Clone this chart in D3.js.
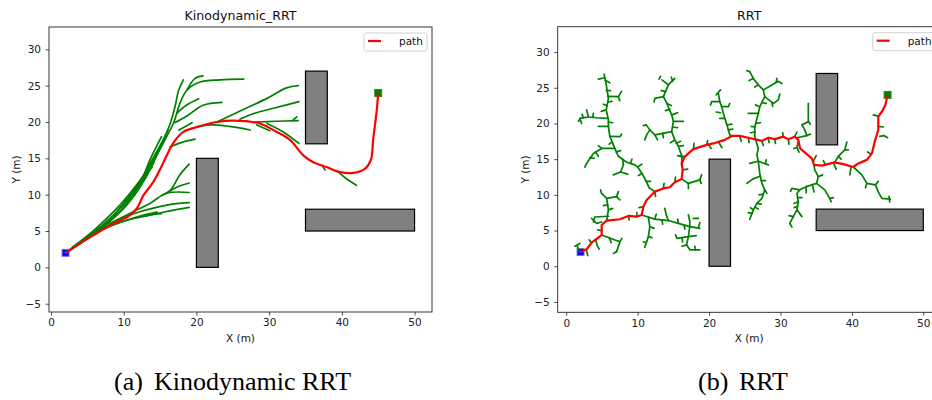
<!DOCTYPE html>
<html>
<head>
<meta charset="utf-8">
<script src="https://cdn.jsdelivr.net/npm/d3@7"></script>
<style>
  body { margin: 0; background: #fff; }
  svg { display: block; font-family: "DejaVu Sans", sans-serif; }
</style>
</head>
<body>
<div id="chart"></div>
<script>
// Axis ticks
const xTicks = [0, 10, 20, 30, 40, 50];
const yTicks = [-5, 0, 5, 10, 15, 20, 25, 30];

// Obstacles: [x, y, w, h] in metres
const obstacles = [
  [20, 0, 3, 15],
  [35, 17, 3, 10],
  [35, 5, 15, 3],
];
const startPoint = [2, 2];
const goalPoint = [45, 24];

// Kinodynamic RRT: final path and tree branches
const kdPath = [
  [2, 2], [4, 3.3], [5.8, 4.4], [8.6, 6.05], [10.6, 7.0], [11.8, 8.1], [12.7, 9.9],
  [14.1, 11.8], [15.4, 14.3], [16.8, 17.1], [18.2, 18.65], [20, 19.3], [22.8, 20.0],
  [25.1, 20.2], [28.7, 19.8], [31.0, 18.65], [32.9, 17.5], [34.7, 15.4], [36.0, 14.5],
  [37.9, 13.8], [39.8, 13.1], [41.6, 13.0], [43.2, 13.6], [44.0, 14.8], [44.3, 17.5],
  [44.8, 21.6], [45, 24],
];
const kdTree = [
  [[2, 2], [5, 4], [8, 6.4], [10.4, 9.3], [12.4, 11.9], [13.6, 14.8], [15.2, 18.0]],
  [[2, 2], [5.5, 4.5], [9, 7.6], [11.8, 11.1], [13.6, 14.3], [15.4, 17.5], [16.4, 19.8], [17.1, 22.3], [17.5, 24.2], [18.2, 25.8]],
  [[3, 2.8], [6, 5.2], [9.5, 8.6], [12.2, 11.9], [14.3, 15.0], [15.8, 17.8], [16.9, 20.0], [17.7, 22.5], [18.7, 24.4], [20.5, 25.5], [23.2, 25.8], [26.5, 25.9]],
  [[4, 3.3], [7, 5.6], [10, 8.7], [12.6, 12.3], [14.6, 15.8], [16.1, 18.9]],
  [[2, 2], [4.5, 3.6], [7.5, 5.8], [10.6, 8.8], [13, 12.3], [14.9, 16.2]],
  [[6, 5], [9, 7.2], [11.2, 9.9], [13.3, 13.0], [14.2, 14.6]],
  [[11.5, 10], [12.3, 11.9], [13.9, 13.8]],
  [[18.7, 24.4], [19.8, 26.0], [20.9, 26.35]],
  [[17.3, 21.2], [18.6, 22.3], [20.3, 23.2]],
  [[17.0, 19.9], [18.8, 20.9], [20.9, 22.3], [23.5, 22.7]],
  [[17.6, 18.9], [19.4, 19.9]],
  [[16.4, 16.6], [18, 17.2], [19.8, 17.65]],
  [[20, 19.3], [21.9, 19.6], [24.5, 19.4], [27.4, 18.9]],
  [[22.8, 20.0], [26, 21.5], [29.7, 23.25], [32.4, 24.7], [34.0, 25.0]],
  [[26, 20.4], [28, 21.2], [31, 22], [34.1, 22.8]],
  [[28, 20], [31, 20.1], [34, 20.2]],
  [[33.2, 20.2], [33.8, 20.7]],
  [[29.7, 19.8], [32, 18.6], [34.1, 17.05]],
  [[28.3, 19.6], [30.1, 18.8]],
  [[37.3, 14.0], [37.7, 13.4]],
  [[39.3, 13.3], [40.5, 12.3], [42.0, 11.3]],
  [[2, 2], [5, 4.1], [9, 6.05], [13.6, 7.2], [16, 7.7], [19, 8.25]],
  [[2, 2], [5.5, 4.4], [9.5, 6.7], [12.2, 7.65], [15.9, 8.57], [19, 8.9]],
  [[5, 4.2], [8.5, 5.8], [12, 7.0], [14.6, 7.6]],
  [[8, 6], [11.3, 7.65], [13.6, 8.8], [15.9, 10.2], [19, 10.3]],
  [[15.9, 10.2], [17, 10.9], [19, 11.6]],
  [[15.2, 9.9], [16.4, 10.6], [17.7, 12.7], [19, 14.2]],
  [[12.6, 7.0], [14.2, 7.3], [15.2, 7.4]],
];

// RRT: final path and tree edges
const rrtPath = [
  [2, 2], [2.86, 2.38], [3.55, 3.3], [4.5, 4.0], [4.96, 4.38], [4.96, 5.78], [5.66, 6.39],
  [7.52, 6.58], [8.7, 7.05], [9.86, 6.95], [10.56, 7.18], [10.8, 8.35], [11.26, 9.29],
  [12.42, 10.45], [13.6, 10.9], [14.5, 11.06], [15.2, 11.76], [16.16, 12.22], [16.3, 13.49],
  [16.16, 14.4], [16.6, 15.35], [17.1, 15.8], [17.8, 16.4], [19.66, 17.0], [20.6, 17.2],
  [22.2, 17.7], [23.2, 18.25], [24.3, 18.25], [25.5, 18.0], [27.4, 17.55], [28.3, 18.0],
  [29.2, 17.8], [30.4, 18.15], [31.1, 17.8], [32.0, 18.15], [32.5, 17.7], [32.75, 16.5],
  [33.4, 15.96], [34.4, 15.1], [34.7, 14.2], [35.8, 14.1], [37.6, 14.55], [38.8, 14.3],
  [40.2, 13.9], [40.9, 14.4], [42.1, 14.9], [42.8, 15.8], [43.2, 17.45], [43.7, 19.1],
  [43.7, 20.95], [44.2, 21.65], [44.7, 22.6], [45, 24],
];
const rrtTree = [
  // left trunk
  [[4.5, 26.2], [5.4, 26.4], [5.6, 25.4], [5.9, 23.5], [5.6, 21.9], [5.9, 20.5], [5.9, 19.6], [6.1, 18.2], [6.8, 16.5], [7.3, 15.4], [8.4, 14.6], [9.6, 14.2], [10.0, 13.9], [10.6, 13.0], [11.2, 11.9], [11.6, 11.0], [12.4, 10.45]],
  [[5.4, 26.4], [5.3, 26.9]], [[5.5, 26.0], [6.1, 25.7]],
  [[5.8, 23.8], [7.3, 23.75], [7.75, 24.5]], [[7.3, 23.75], [7.5, 23.2]],
  [[5.6, 21.9], [4.9, 21.7]],
  [[5.8, 20.7], [4.25, 20.8], [3.1, 20.9], [2.85, 21.9]],
  [[3.1, 20.9], [1.9, 20.7], [2.15, 20.0]], [[3.7, 20.85], [3.8, 21.4]], [[2.4, 20.8], [2.2, 21.3]],
  [[4.5, 19.6], [5.9, 19.6]],
  [[6.1, 18.2], [7.5, 18.15], [7.75, 18.5]],
  [[6.8, 16.5], [4.95, 16.5], [4.5, 16.9]],
  [[4.95, 16.5], [3.8, 15.8], [2.85, 14.4], [2.6, 13.9]],
  [[4.1, 16.0], [4.5, 15.4]], [[3.3, 15.2], [3.9, 15.1]],
  [[7.9, 15.0], [8.0, 14.2], [7.6, 13.2], [6.6, 12.8]], [[7.6, 13.2], [8.6, 12.9]],
  [[9.0, 14.4], [9.2, 15.0]], [[10.0, 13.9], [10.6, 14.3]], [[10.6, 13.0], [10.1, 12.7]],
  [[11.2, 11.9], [11.8, 11.9]],
  [[5.9, 23.0], [6.4, 23.1]], [[5.7, 22.5], [5.2, 22.7]], [[5.9, 20.2], [6.5, 20.1]],
  [[6.4, 17.4], [6.0, 17.1]], [[7.0, 16.0], [7.6, 16.2]], [[5.6, 24.6], [6.2, 24.6]], [[2.0, 20.7], [1.7, 20.3]],
  // second trunk
  [[13.4, 26.1], [14.3, 25.4], [13.6, 23.75], [14.1, 22.8], [14.76, 21.2], [15.0, 20.3], [14.76, 18.85], [15.2, 17.7], [15.7, 16.8], [16.2, 15.4], [16.16, 14.4]],
  [[14.3, 25.4], [15.2, 26.3]], [[14.9, 25.9], [14.7, 26.5]], [[13.0, 26.2], [13.2, 26.6]],
  [[13.6, 23.75], [12.4, 23.5], [12.3, 23.0]],
  [[15.0, 20.3], [16.4, 20.3]], [[14.8, 21.2], [15.6, 21.5]], [[14.1, 22.8], [14.7, 22.5]],
  [[14.76, 18.85], [12.4, 18.4], [11.7, 19.1], [11.2, 19.8]],
  [[11.7, 19.1], [11.26, 18.4], [11.0, 17.7]], [[12.4, 18.4], [12.8, 17.7]], [[11.2, 19.8], [10.8, 19.7]],
  [[15.7, 16.8], [16.4, 16.9]], [[15.2, 17.7], [14.6, 17.3]], [[16.2, 15.4], [15.6, 15.5]],
  [[13.9, 24.5], [13.3, 24.6]], [[14.5, 22.0], [13.9, 21.8]], [[14.9, 19.5], [15.6, 19.4]],
  [[15.4, 17.2], [16.0, 17.5]], [[13.5, 18.6], [13.6, 18.0]],
  // third cluster
  [[21.3, 24.2], [21.5, 23.05], [21.76, 22.35], [22.2, 20.7], [22.5, 19.8], [22.9, 18.4], [23.2, 18.25]],
  [[21.5, 23.05], [20.35, 23.05], [20.2, 22.6]], [[21.76, 22.35], [22.7, 22.35], [22.9, 22.8]],
  [[22.2, 20.7], [21.5, 20.7]], [[22.5, 19.8], [23.2, 19.9]], [[21.0, 24.0], [21.6, 24.7]],
  [[19.9, 17.1], [20.3, 16.5]], [[21.3, 17.45], [21.8, 16.6]],
  [[21.6, 21.5], [21.0, 21.6]], [[22.7, 19.1], [23.3, 19.2]],
  // upper middle
  [[25.7, 27.25], [26.2, 26.3], [26.9, 25.4], [27.6, 24.7], [27.8, 23.75], [27.1, 22.35], [26.9, 21.4], [26.7, 20.7], [26.4, 19.5], [26.4, 18.15], [26.5, 17.8]],
  [[27.6, 24.7], [28.8, 25.4], [29.7, 25.9], [30.2, 25.6]], [[29.4, 25.8], [29.5, 26.3]],
  [[27.8, 23.75], [29.0, 22.8], [29.7, 23.3], [29.9, 24.1]], [[28.8, 22.9], [28.9, 22.4]],
  [[25.5, 21.4], [26.9, 21.4]], [[26.4, 19.5], [25.9, 19.6]], [[25.7, 27.25], [25.3, 27.4]],
  [[26.2, 26.3], [25.6, 26.0]], [[27.1, 22.35], [26.5, 22.6]], [[26.9, 25.4], [26.4, 25.1]],
  [[26.6, 20.0], [27.2, 20.1]], [[26.4, 18.8], [25.8, 18.7]], [[27.5, 22.9], [28.0, 22.8]],
  // near upper obstacle and goal
  [[33.9, 22.8], [33.9, 20.25], [33.0, 19.8], [33.4, 19.1], [33.7, 18.3], [32.3, 18.0]],
  [[33.9, 20.25], [34.2, 19.9]], [[33.7, 18.3], [34.2, 18.5]],
  [[32.5, 17.5], [32.3, 16.6], [32.6, 16.0]], [[32.3, 16.6], [31.9, 16.5]],
  [[34.6, 14.7], [35.0, 15.5]],
  [[39.3, 17.4], [39.0, 16.3], [38.1, 15.4], [37.6, 14.55]], [[39.0, 16.3], [39.5, 16.3]], [[38.1, 15.4], [38.5, 15.0]],
  [[43.0, 21.2], [43.7, 21.0]], [[43.7, 19.6], [44.4, 19.5]], [[43.9, 18.2], [44.5, 18.3], [45.0, 18.0]],
  [[42.2, 16.0], [42.7, 15.7]], [[36.0, 14.8], [36.3, 14.2]],
  // lower middle trunk
  [[26.5, 17.8], [26.9, 16.5], [26.7, 15.6], [26.9, 14.7], [27.1, 13.0], [27.4, 11.6], [27.8, 10.7], [27.4, 9.5], [26.7, 8.8], [26.2, 7.9], [25.7, 6.6]],
  [[26.9, 14.7], [25.7, 14.4]], [[26.9, 14.7], [28.3, 14.2]], [[25.3, 11.6], [26.1, 12.2], [27.1, 12.6]],
  [[27.8, 10.7], [28.1, 10.2]], [[26.7, 8.8], [27.3, 8.7]], [[26.2, 7.9], [25.8, 8.2]], [[27.9, 14.4], [28.0, 14.9]],
  [[27.3, 12.0], [27.9, 12.0]], [[27.6, 10.1], [27.0, 10.0]], [[26.4, 8.3], [26.9, 8.0]], [[26.0, 7.4], [25.5, 7.5]],
  // below path, right
  [[34.7, 14.2], [34.8, 13.5], [35.3, 12.55], [35.05, 11.6], [33.6, 11.15], [32.7, 10.7], [32.3, 10.2], [32.5, 9.05], [32.3, 7.9], [31.8, 6.95], [31.3, 6.0]],
  [[32.7, 10.7], [31.6, 10.9], [31.4, 10.5]],
  [[35.05, 11.6], [36.2, 10.7], [36.9, 9.5], [37.1, 9.05]], [[36.9, 9.5], [37.4, 9.6]],
  [[33.6, 11.15], [33.6, 10.3]], [[34.5, 11.3], [34.7, 10.4]], [[32.3, 7.9], [33.0, 6.95]],
  [[31.8, 6.95], [31.2, 7.1]], [[31.3, 6.0], [31.6, 5.5]], [[32.5, 9.05], [31.9, 8.8]], [[35.3, 12.55], [35.9, 12.8]],
  [[32.4, 9.6], [33.0, 9.6]], [[32.4, 8.4], [31.9, 8.2]],
  [[40.2, 13.9], [41.4, 12.8], [42.1, 11.6], [43.3, 11.4], [43.8, 10.2], [44.2, 9.5], [45.4, 9.4]],
  [[42.1, 11.6], [41.9, 11.0]], [[43.3, 11.4], [43.7, 11.9]], [[45.2, 9.8], [45.3, 9.0]],
  [[39.9, 13.9], [39.7, 12.8]], [[37.4, 14.5], [37.8, 13.6]],
  // lower left
  [[5.66, 6.39], [5.9, 7.9], [5.65, 9.5], [4.95, 10.2]],
  [[5.65, 9.5], [7.05, 9.75], [7.3, 10.45]], [[7.05, 9.75], [7.5, 9.3]], [[4.95, 10.2], [4.8, 10.7]],
  [[5.9, 7.9], [6.5, 8.1]], [[5.8, 8.6], [5.2, 8.5]],
  [[5.9, 7.0], [4.0, 6.9], [3.8, 6.2]], [[4.95, 6.2], [4.25, 6.0], [3.55, 6.7]],
  [[4.96, 4.38], [6.82, 3.68], [7.52, 3.45], [7.05, 2.05]],
  [[6.0, 4.0], [6.3, 3.3]], [[7.52, 3.45], [7.8, 3.9]], [[7.05, 2.05], [6.6, 1.8]],
  [[1.9, 2.0], [1.5, 2.9]], [[1.2, 2.8], [1.9, 3.2]], [[4.1, 3.8], [4.3, 3.0], [4.6, 2.4]], [[2.8, 2.3], [3.0, 1.5]],
  [[4.96, 5.0], [4.4, 5.1]],
  [[10.56, 7.18], [12.4, 6.6], [14.3, 6.4], [15.7, 6.0], [17.3, 5.55], [18.7, 5.3]],
  [[12.4, 6.6], [12.6, 7.3]], [[13.8, 8.1], [14.0, 7.2], [14.3, 6.4]],
  [[17.1, 7.2], [17.3, 6.3], [17.3, 5.55]], [[17.8, 6.7], [18.5, 6.7]], [[18.5, 5.35], [18.7, 6.1]], [[15.7, 6.0], [15.6, 6.6]],
  [[13.4, 6.5], [13.5, 5.9]], [[16.5, 5.8], [16.6, 5.2]],
  [[17.3, 5.55], [17.1, 4.15], [15.5, 3.9], [15.3, 4.4]],
  [[17.1, 4.15], [16.85, 3.0], [17.3, 2.3], [18.7, 2.3]],
  [[16.85, 3.0], [16.2, 2.8]], [[18.1, 2.3], [18.0, 2.8]], [[16.2, 4.0], [16.3, 3.4]], [[17.1, 4.15], [18.2, 4.3]],
  [[11.5, 6.9], [11.7, 5.55], [11.5, 4.15], [11.0, 2.65]],
  [[11.7, 5.55], [12.3, 5.3]], [[11.5, 4.15], [12.0, 4.0]], [[11.2, 3.3], [10.8, 3.4]],
  // twigs along the path
  [[16.2, 12.2], [17.1, 11.6], [18.7, 12.1], [18.95, 12.8]], [[17.1, 11.6], [17.1, 10.9]], [[18.7, 12.1], [18.9, 11.6]],
  [[13.6, 10.9], [13.7, 11.6]], [[15.2, 11.76], [15.3, 12.5]], [[12.42, 10.45], [12.5, 9.8]],
  [[10.8, 8.35], [10.2, 8.2]], [[9.86, 6.95], [9.9, 7.5]], [[8.7, 7.05], [8.8, 6.5]],
  [[16.3, 13.49], [17.0, 13.6]], [[16.6, 15.35], [15.9, 15.4]], [[17.8, 16.4], [17.9, 17.2]],
  [[19.66, 17.0], [19.8, 17.6]], [[24.3, 18.25], [24.5, 17.5]], [[25.5, 18.0], [25.6, 17.3]],
  [[28.3, 18.0], [28.4, 17.3]], [[29.2, 17.8], [29.3, 17.2]], [[30.4, 18.15], [30.3, 18.7]],
  [[31.1, 17.8], [31.2, 17.1]], [[32.0, 18.15], [32.3, 18.8]], [[27.4, 17.55], [27.6, 16.9]],
  [[3.55, 3.3], [3.2, 3.7]],
];

const width = 932;
const height = 400;

const svg = d3
  .select("#chart")
  .append("svg")
  .attr("width", width)
  .attr("height", height);

svg.append("rect").attr("width", width).attr("height", height).attr("fill", "#fff");

const panels = [
  {
    left: 49, right: 432, top: 27, bottom: 312,
    xDomain: [-0.28, 52.4], yDomain: [-6.14, 33.07],
    title: "Kinodynamic_RRT",
    tree: kdTree, path: kdPath, curve: d3.curveCatmullRom,
    yLabelX: 19.5, tag: "(a)", tagX: 114, caption: "Kinodynamic RRT", captionX: 154,
  },
  {
    left: 557.7, right: 940.7, top: 26.7, bottom: 312.3,
    xDomain: [-1.2, 52.44], yDomain: [-6.45, 33.55],
    title: "RRT",
    tree: rrtTree, path: rrtPath, curve: d3.curveLinear,
    yLabelX: 529, tag: "(b)", tagX: 698, caption: "RRT", captionX: 739,
  },
];

panels.forEach((p) => drawPanel(p));

function drawPanel(p) {
  const x = d3.scaleLinear().domain(p.xDomain).range([p.left, p.right]);
  const y = d3.scaleLinear().domain(p.yDomain).range([p.bottom, p.top]);
  const cx = (p.left + p.right) / 2;
  const cy = (p.top + p.bottom) / 2;
  const g = svg.append("g");

  // Obstacles
  g.selectAll(".obstacle")
    .data(obstacles)
    .join("rect")
    .attr("x", (d) => x(d[0]))
    .attr("y", (d) => y(d[1] + d[3]))
    .attr("width", (d) => x(d[0] + d[2]) - x(d[0]))
    .attr("height", (d) => y(d[1]) - y(d[1] + d[3]))
    .attr("fill", "#808080")
    .attr("stroke", "#000")
    .attr("stroke-width", 1.2);

  // Start / goal markers
  const ms = 7;
  g.append("rect")
    .attr("x", x(startPoint[0]) - ms / 2)
    .attr("y", y(startPoint[1]) - ms / 2)
    .attr("width", ms).attr("height", ms)
    .attr("fill", "#0000ff").attr("stroke", "#7070ff").attr("stroke-width", 1);
  g.append("rect")
    .attr("x", x(goalPoint[0]) - ms / 2)
    .attr("y", y(goalPoint[1]) - ms / 2)
    .attr("width", ms).attr("height", ms)
    .attr("fill", "#008000").attr("stroke", "#2a8a2a").attr("stroke-width", 1);

  const line = d3.line().x((d) => x(d[0])).y((d) => y(d[1])).curve(p.curve);

  // Tree
  g.selectAll(".branch")
    .data(p.tree)
    .join("path")
    .attr("d", line)
    .attr("fill", "none")
    .attr("stroke", "#008000")
    .attr("stroke-width", 1.7)
    .attr("stroke-linecap", "round")
    .attr("stroke-linejoin", "round");

  // Path
  g.append("path")
    .attr("d", line(p.path))
    .attr("fill", "none")
    .attr("stroke", "#ff0000")
    .attr("stroke-width", 2.2)
    .attr("stroke-linejoin", "round");

  // Axes
  const xAxis = d3.axisBottom(x).tickValues(xTicks).tickSize(3.5).tickPadding(3.5);
  const yAxis = d3.axisLeft(y).tickValues(yTicks).tickSize(3.5).tickPadding(4.5);

  g.append("g")
    .attr("transform", `translate(0, ${p.bottom})`)
    .call(xAxis)
    .call((a) => a.select(".domain").remove());
  g.append("g")
    .attr("transform", `translate(${p.left}, 0)`)
    .call(yAxis)
    .call((a) => a.select(".domain").remove());
  g.selectAll(".tick text").attr("font-size", 10.5).attr("fill", "#222").attr("font-family", "DejaVu Sans");
  g.selectAll(".tick line").attr("stroke", "#222").attr("stroke-width", 0.8);

  // Frame
  g.append("rect")
    .attr("x", p.left).attr("y", p.top)
    .attr("width", p.right - p.left).attr("height", p.bottom - p.top)
    .attr("fill", "none").attr("stroke", "#222").attr("stroke-width", 0.9);

  // Title and labels
  g.append("text").attr("x", cx).attr("y", 20).attr("text-anchor", "middle")
    .attr("font-size", 12.6).attr("fill", "#111").text(p.title);
  g.append("text").attr("x", cx).attr("y", 342).attr("text-anchor", "middle")
    .attr("font-size", 10.5).attr("fill", "#111").text("X (m)");
  g.append("text")
    .attr("transform", `translate(${p.yLabelX}, ${cy}) rotate(-90)`)
    .attr("text-anchor", "middle")
    .attr("font-size", 10.5).attr("fill", "#111").text("Y (m)");

  // Legend
  const lx = p.right - 68;
  const ly = p.top + 6;
  g.append("rect")
    .attr("x", lx).attr("y", ly).attr("width", 63).attr("height", 18).attr("rx", 2)
    .attr("fill", "#fff").attr("fill-opacity", 0.8)
    .attr("stroke", "#cccccc").attr("stroke-width", 0.9);
  g.append("line")
    .attr("x1", lx + 4).attr("x2", lx + 17).attr("y1", ly + 8).attr("y2", ly + 8)
    .attr("stroke", "#ff0000").attr("stroke-width", 2.2);
  g.append("text").attr("x", lx + 35).attr("y", ly + 12)
    .attr("font-size", 10.5).attr("fill", "#111").text("path");

  // Caption
  g.append("text").attr("x", p.tagX).attr("y", 390)
    .attr("font-family", "Liberation Serif, Times New Roman, serif")
    .attr("font-size", 26).attr("fill", "#000").text(p.tag);
  g.append("text").attr("x", p.captionX).attr("y", 390)
    .attr("font-family", "Liberation Serif, Times New Roman, serif")
    .attr("font-size", 26).attr("fill", "#000").text(p.caption);
}
</script>
</body>
</html>
